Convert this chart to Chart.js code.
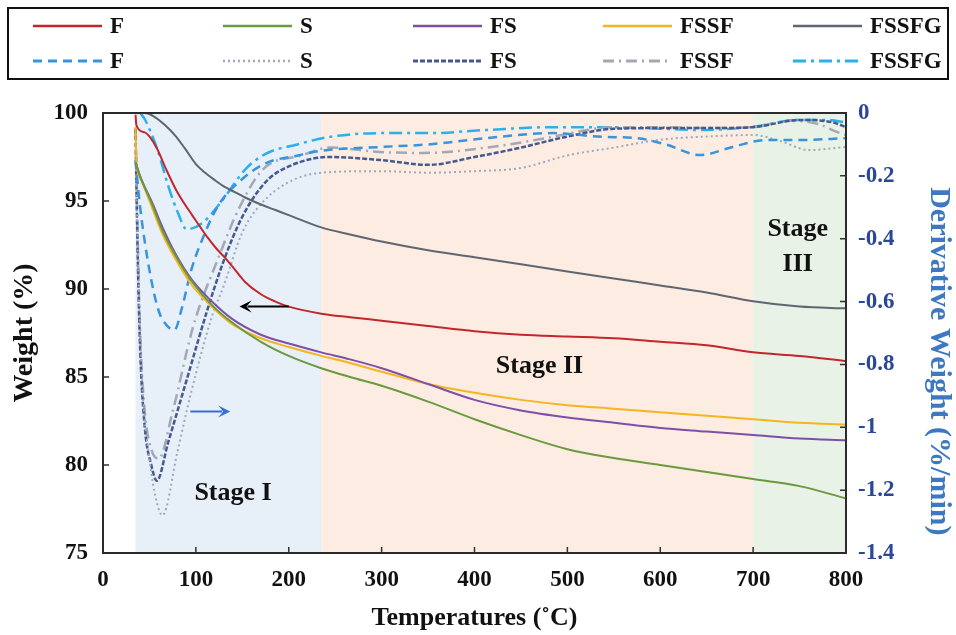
<!DOCTYPE html>
<html>
<head>
<meta charset="utf-8">
<script src="https://cdn.jsdelivr.net/npm/chart.js@4"></script>
<style>
  html, body { margin: 0; padding: 0; background: #fff; }
  #wrap { width: 956px; height: 635px; }
</style>
</head>
<body>
<div id="wrap"><canvas id="tgChart" width="956" height="635"></canvas></div>
<script>
// tick labels
const tempTicks = [0, 100, 200, 300, 400, 500, 600, 700, 800];
const weightTicks = [75, 80, 85, 90, 95, 100];
const derivTicks = [0, -0.2, -0.4, -0.6, -0.8, -1, -1.2, -1.4];

// stages (temperature bounds)
const stageEdges = [35, 235, 700, 800];

// TG curves - weight (%)
const fTemp = [35, 36, 45, 51, 58, 68, 78, 87, 96, 105, 113, 122, 131, 142, 153, 170, 185, 200, 235, 266, 300, 350, 400, 450, 500, 550, 600, 650, 700, 750, 800];
const fWeight = [99.9, 99.3, 98.9, 98.6, 98.0, 96.8, 95.7, 94.9, 94.2, 93.5, 92.9, 92.3, 91.8, 91.1, 90.4, 89.7, 89.3, 89.0, 88.6, 88.4, 88.2, 87.9, 87.6, 87.4, 87.3, 87.2, 87.0, 86.8, 86.4, 86.2, 85.9];

const sTemp = [35, 40, 53, 65, 78, 96, 117, 139, 170, 200, 235, 266, 300, 350, 400, 450, 500, 550, 600, 650, 700, 750, 800];
const sWeight = [97.2, 96.4, 94.8, 93.2, 91.9, 90.4, 89.1, 88.1, 87.0, 86.2, 85.5, 85.0, 84.5, 83.6, 82.6, 81.7, 80.9, 80.4, 80.0, 79.6, 79.2, 78.8, 78.1];

const fsTemp = [35, 40, 53, 65, 78, 96, 117, 139, 170, 200, 235, 266, 300, 350, 400, 450, 500, 550, 600, 650, 700, 750, 800];
const fsWeight = [97.2, 96.4, 94.9, 93.4, 92.0, 90.5, 89.3, 88.3, 87.4, 86.9, 86.4, 86.0, 85.5, 84.6, 83.7, 83.1, 82.7, 82.4, 82.1, 81.9, 81.7, 81.5, 81.4];

const fssfTemp = [35, 36, 40, 53, 65, 78, 96, 117, 139, 170, 200, 235, 266, 300, 350, 400, 450, 500, 550, 600, 650, 700, 750, 800];
const fssfWeight = [99.2, 97.2, 96.3, 94.6, 93.0, 91.7, 90.2, 89.0, 88.0, 87.2, 86.7, 86.2, 85.8, 85.3, 84.6, 84.1, 83.7, 83.4, 83.2, 83.0, 82.8, 82.6, 82.4, 82.3];

const fssfgTemp = [35, 45, 55, 67, 78, 88, 100, 110, 120, 131, 142, 153, 170, 185, 200, 235, 266, 300, 350, 400, 450, 500, 550, 600, 650, 700, 750, 800];
const fssfgWeight = [100, 100, 99.8, 99.3, 98.7, 98.0, 97.1, 96.6, 96.2, 95.8, 95.5, 95.2, 94.8, 94.5, 94.2, 93.5, 93.1, 92.7, 92.2, 91.8, 91.4, 91.0, 90.6, 90.2, 89.8, 89.3, 89.0, 88.9];

// DTG curves - derivative weight (%/min)
const fDTemp = [35, 40, 50, 60, 70, 77, 85, 95, 110, 125, 150, 175, 210, 235, 300, 350, 413, 484, 538, 575, 606, 643, 678, 714, 750, 800];
const fDeriv = [-0.15, -0.3, -0.5, -0.63, -0.68, -0.69, -0.62, -0.5, -0.38, -0.29, -0.21, -0.16, -0.135, -0.12, -0.108, -0.1, -0.08, -0.064, -0.076, -0.08, -0.1, -0.134, -0.108, -0.086, -0.086, -0.08];

const sDTemp = [35, 38, 42, 50, 58, 64, 80, 94, 117, 130, 150, 170, 200, 235, 300, 350, 400, 450, 500, 550, 600, 650, 700, 730, 760, 800];
const sDeriv = [-0.1, -0.5, -0.85, -1.1, -1.24, -1.28, -1.08, -0.9, -0.65, -0.55, -0.38, -0.29, -0.22, -0.19, -0.185, -0.19, -0.185, -0.175, -0.135, -0.11, -0.085, -0.075, -0.07, -0.09, -0.118, -0.108];

const fsDTemp = [35, 37, 40, 45, 52, 58, 70, 90, 112, 130, 150, 175, 200, 244, 300, 350, 400, 450, 500, 550, 600, 650, 700, 750, 786, 800];
const fsDeriv = [-0.05, -0.4, -0.75, -1.0, -1.12, -1.17, -1.05, -0.85, -0.63, -0.47, -0.33, -0.22, -0.17, -0.14, -0.15, -0.165, -0.14, -0.11, -0.075, -0.05, -0.048, -0.048, -0.045, -0.022, -0.03, -0.045];

const fssfDTemp = [35, 37, 40, 45, 52, 60, 75, 97, 123, 147, 172, 215, 244, 298, 345, 413, 484, 521, 549, 600, 650, 700, 740, 770, 790, 800];
const fssfDeriv = [-0.05, -0.35, -0.7, -0.95, -1.07, -1.1, -0.95, -0.68, -0.47, -0.3, -0.18, -0.134, -0.11, -0.124, -0.127, -0.11, -0.076, -0.054, -0.045, -0.045, -0.048, -0.045, -0.025, -0.035, -0.06, -0.07];

const fssfgDTemp = [40, 45, 59, 70, 81, 90, 107, 128, 153, 175, 209, 244, 298, 352, 413, 484, 538, 600, 643, 697, 750, 780, 800];
const fssfgDeriv = [0, -0.02, -0.12, -0.23, -0.32, -0.37, -0.35, -0.28, -0.18, -0.13, -0.1, -0.076, -0.064, -0.064, -0.054, -0.045, -0.045, -0.05, -0.054, -0.045, -0.022, -0.022, -0.03];

const SERIF = '"Liberation Serif", "Times New Roman", serif';

const toPoints = (xs, ys) => xs.map((x, i) => ({ x: x, y: ys[i] }));

const makeLine = (label, xs, ys, axis, color, dash, width) => ({
    label: label,
    data: toPoints(xs, ys),
    yAxisID: axis,
    borderColor: color,
    borderDash: dash,
    borderWidth: width,
    pointRadius: 0,
    fill: false,
    cubicInterpolationMode: 'monotone'
});

const datasets = [
    makeLine('F', fTemp, fWeight, 'y', '#c3262d', [], 2),
    makeLine('S', sTemp, sWeight, 'y', '#6b9a3e', [], 2),
    makeLine('FS', fsTemp, fsWeight, 'y', '#7d4fa9', [], 2),
    makeLine('FSSF', fssfTemp, fssfWeight, 'y', '#f4b51e', [], 2),
    makeLine('FSSFG', fssfgTemp, fssfgWeight, 'y', '#5e6671', [], 2),
    makeLine('F', fDTemp, fDeriv, 'y2', '#3894dc', [9, 6], 2.5),
    makeLine('S', sDTemp, sDeriv, 'y2', '#9ea9c0', [2, 3], 2),
    makeLine('FS', fsDTemp, fsDeriv, 'y2', '#46598e', [5, 2], 2.5),
    makeLine('FSSF', fssfDTemp, fssfDeriv, 'y2', '#a4a8b4', [11, 5, 2, 5], 2.5),
    makeLine('FSSFG', fssfgDTemp, fssfgDeriv, 'y2', '#2cb0e8', [13, 5, 3, 5], 2.5)
];

// coloured stage bands behind the curves
const stageBands = {
    id: 'stageBands',
    beforeDatasetsDraw(chart) {
        const { ctx, chartArea, scales } = chart;
        const colors = ['#e7eff9', '#fcece2', '#e9f2e6'];
        ctx.save();
        for (let i = 0; i < colors.length; i++) {
            const x0 = scales.x.getPixelForValue(stageEdges[i]);
            const x1 = scales.x.getPixelForValue(stageEdges[i + 1]);
            ctx.fillStyle = colors[i];
            ctx.fillRect(x0, chartArea.top, x1 - x0, chartArea.bottom - chartArea.top);
        }
        ctx.restore();
    }
};

const drawArrow = (ctx, x0, y0, x1, y1, color) => {
    const ang = Math.atan2(y1 - y0, x1 - x0);
    ctx.strokeStyle = color;
    ctx.fillStyle = color;
    ctx.lineWidth = 2;
    ctx.beginPath();
    ctx.moveTo(x0, y0);
    ctx.lineTo(x1 - 8 * Math.cos(ang), y1 - 8 * Math.sin(ang));
    ctx.stroke();
    ctx.beginPath();
    ctx.moveTo(x1, y1);
    ctx.lineTo(x1 - 12 * Math.cos(ang) + 6 * Math.sin(ang), y1 - 12 * Math.sin(ang) - 6 * Math.cos(ang));
    ctx.lineTo(x1 - 7 * Math.cos(ang), y1 - 7 * Math.sin(ang));
    ctx.lineTo(x1 - 12 * Math.cos(ang) - 6 * Math.sin(ang), y1 - 12 * Math.sin(ang) + 6 * Math.cos(ang));
    ctx.closePath();
    ctx.fill();
};

// frame, inward ticks, stage labels, arrows, right title and legend
const decorations = {
    id: 'decorations',
    afterDatasetsDraw(chart) {
        const { ctx, chartArea: a, scales } = chart;
        const { x, y, y2 } = scales;
        ctx.save();

        // inward tick marks
        ctx.strokeStyle = '#333';
        ctx.lineWidth = 1.5;
        ctx.beginPath();
        tempTicks.forEach(t => {
            const px = x.getPixelForValue(t);
            ctx.moveTo(px, a.bottom);
            ctx.lineTo(px, a.bottom - 6);
        });
        weightTicks.forEach(t => {
            const py = y.getPixelForValue(t);
            ctx.moveTo(a.left, py);
            ctx.lineTo(a.left + 6, py);
        });
        derivTicks.forEach(t => {
            const py = y2.getPixelForValue(t);
            ctx.moveTo(a.right, py);
            ctx.lineTo(a.right - 6, py);
        });
        ctx.stroke();

        // frame
        ctx.strokeStyle = '#2b2b2b';
        ctx.lineWidth = 2;
        ctx.strokeRect(a.left, a.top, a.right - a.left, a.bottom - a.top);

        // stage labels
        ctx.fillStyle = '#111';
        ctx.font = 'bold 26px ' + SERIF;
        ctx.textAlign = 'center';
        ctx.textBaseline = 'middle';
        ctx.fillText('Stage I', x.getPixelForValue(140), y.getPixelForValue(78.4));
        ctx.fillText('Stage II', x.getPixelForValue(470), y.getPixelForValue(85.6));
        ctx.fillText('Stage', x.getPixelForValue(748), y.getPixelForValue(93.4));
        ctx.fillText('III', x.getPixelForValue(748), y.getPixelForValue(91.4));

        // arrows pointing to the axis each family belongs to
        drawArrow(ctx, x.getPixelForValue(200), y.getPixelForValue(89.0),
            x.getPixelForValue(147), y.getPixelForValue(89.0), '#000');
        drawArrow(ctx, x.getPixelForValue(94), y2.getPixelForValue(-0.95),
            x.getPixelForValue(137), y2.getPixelForValue(-0.95), '#3b6fcc');

        // right axis title (sits a bit lower than centre in the original)
        ctx.save();
        ctx.translate(939, y2.getPixelForValue(-0.79));
        ctx.rotate(Math.PI / 2);
        ctx.fillStyle = '#3d78c0';
        ctx.font = 'bold 30px ' + SERIF;
        ctx.fillText('Derivative Weight (%/min)', 0, 0);
        ctx.restore();

        ctx.restore();
    },
    afterDraw(chart) {
        const { ctx } = chart;
        ctx.save();
        ctx.strokeStyle = '#111';
        ctx.lineWidth = 2;
        ctx.strokeRect(8, 8, 940, 71);
        ctx.font = 'bold 23px ' + SERIF;
        ctx.textBaseline = 'middle';
        ctx.textAlign = 'left';
        chart.data.datasets.forEach((ds, i) => {
            const col = i % 5;
            const row = Math.floor(i / 5);
            const x0 = 33 + col * 190;
            const yy = row === 0 ? 26 : 61;
            ctx.strokeStyle = ds.borderColor;
            ctx.lineWidth = ds.borderWidth + 0.5;
            ctx.setLineDash(ds.borderDash);
            ctx.beginPath();
            ctx.moveTo(x0, yy);
            ctx.lineTo(x0 + 69, yy);
            ctx.stroke();
            ctx.setLineDash([]);
            ctx.fillStyle = '#111';
            ctx.fillText(ds.label, x0 + 77, yy + 1);
        });
        ctx.restore();
    }
};

const fixTicks = (values) => (scale) => {
    scale.ticks = values.map(v => ({ value: v }));
};

const tgChart = new Chart(document.getElementById('tgChart').getContext('2d'), {
    type: 'line',
    data: { datasets: datasets },
    options: {
        responsive: false,
        animation: false,
        events: [],
        layout: { padding: { top: 113, left: 0, right: 0, bottom: 0 } },
        plugins: {
            legend: { display: false },
            tooltip: { enabled: false }
        },
        scales: {
            x: {
                type: 'linear',
                min: 0,
                max: 800,
                afterBuildTicks: fixTicks(tempTicks),
                afterFit: (s) => { s.height = 82; },
                grid: { display: false, drawTicks: false },
                border: { display: false },
                ticks: {
                    padding: 13,
                    color: '#111',
                    font: { family: SERIF, size: 23, weight: 'bold' }
                },
                title: {
                    display: true,
                    text: 'Temperatures (˚C)',
                    color: '#111',
                    padding: { top: 0, bottom: 1 },
                    font: { family: SERIF, size: 26, weight: 'bold' }
                }
            },
            y: {
                type: 'linear',
                position: 'left',
                min: 75,
                max: 100,
                afterBuildTicks: fixTicks(weightTicks),
                afterFit: (s) => { s.width = 103; },
                grid: { display: false, drawTicks: false },
                border: { display: false },
                ticks: {
                    padding: 15,
                    color: '#111',
                    font: { family: SERIF, size: 23, weight: 'bold' }
                },
                title: {
                    display: true,
                    text: 'Weight (%)',
                    color: '#111',
                    padding: { top: 8, bottom: 0 },
                    font: { family: SERIF, size: 28, weight: 'bold' }
                }
            },
            y2: {
                type: 'linear',
                position: 'right',
                min: -1.4,
                max: 0,
                afterBuildTicks: fixTicks(derivTicks),
                afterFit: (s) => { s.width = 110; },
                grid: { display: false, drawTicks: false },
                border: { display: false },
                ticks: {
                    padding: 12,
                    color: '#2b4797',
                    font: { family: SERIF, size: 23, weight: 'bold' },
                    callback: (v) => String(Math.round(v * 10) / 10)
                },
                title: { display: false }
            }
        }
    },
    plugins: [stageBands, decorations]
});
</script>
</body>
</html>
